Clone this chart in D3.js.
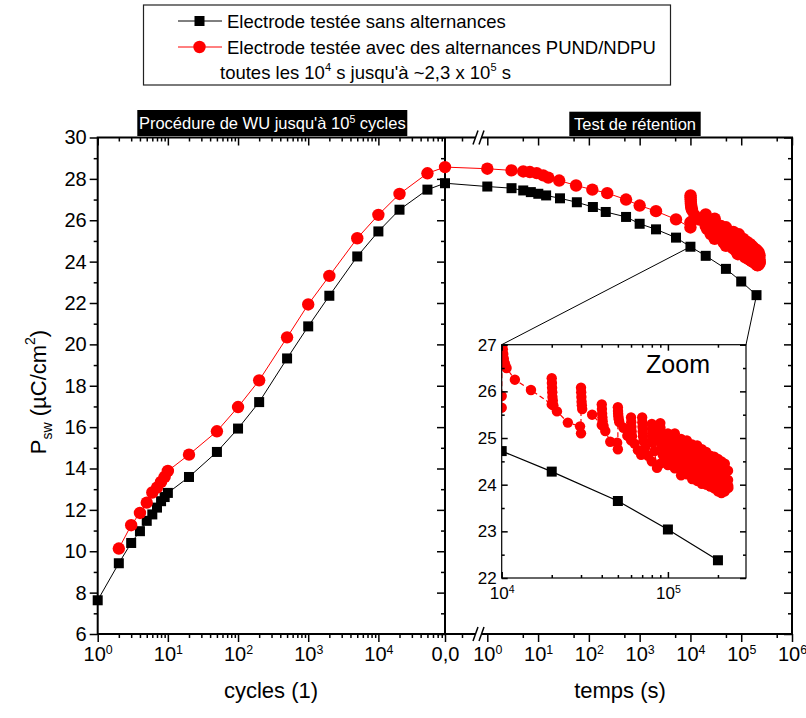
<!DOCTYPE html>
<html><head><meta charset="utf-8">
<script src="https://cdn.jsdelivr.net/npm/d3@7"></script>
<style>body{margin:0;background:#fff;}</style>
</head><body><svg id="c" width="806" height="718"></svg>
<script>
// ---------------- DATA ----------------
// Warm-up (WU) procedure : cycles
const cycBlack = [1,2,3,4,5,6,7,8,9,10,20,50,100,200,500,1000,2000,5000,10000,20000,50000];
const wuBlack  = [7.63,9.42,10.40,10.97,11.47,11.78,12.11,12.42,12.62,12.82,13.59,14.80,15.93,17.21,19.32,20.87,22.35,24.25,25.46,26.51,27.48];
const cycRed   = [2,3,4,5,6,7,8,9,10,20,50,100,200,500,1000,2000,5000,10000,20000,50000];
const wuRed    = [10.13,11.26,11.85,12.35,12.84,13.08,13.35,13.60,13.88,14.67,15.80,16.97,18.26,20.34,21.93,23.31,25.13,26.26,27.27,28.27];

// Retention test : time (s)
const retTimeBlack = [0,1,3,5.1,7.2,10.1,14.4,27,58,120,215,540,1000,2100,5200,10000,20000,50000,100000,200000];
const retBlack     = [27.79,27.63,27.55,27.44,27.36,27.28,27.20,27.06,26.87,26.64,26.40,26.16,25.83,25.56,25.16,24.72,24.28,23.65,23.04,22.38];

const retTimeRed = [0,1,3,5.1,6.9,9.4,12.6,15.9,26,56,117,230,540,1000,2100,5200];
const retRed     = [28.57,28.49,28.41,28.36,28.33,28.28,28.17,28.06,27.92,27.68,27.48,27.31,27.00,26.71,26.44,26.04];

// Red electrode with PUND/NDPU alternances every 1e4 s
const altTimeRed = [
  10000,10000,10050,10080,10120,10160,10220,10300,10450,10700,12000,15000,
  20000,20000,20050,20100,20150,20200,20300,20450,21500,25000,
  29600,30000,30000,30080,30160,30250,30350,30500,35000,
  40000,40000,40100,40200,40350,40500,41000,42000,45000,
  49500,50000,50000,50100,50200,50350,50600,51000,54000,57000,
  60000,60000,60150,60300,60500,60800,63000,66000,
  69000,70000,70150,70300,70500,70800,71200,73000,76000,
  80000,80000,80200,80400,80700,81000,83000,86000,
  90000,90000,90200,90400,90700,91000,91500,93000,96000,
  100000,100000,100300,100600,101000,101500,104000,107000,
  110000,110000,110300,110600,111000,111500,112000,114000,117000,
  120000,120000,120300,120700,121200,121800,124000,127000,
  130000,130000,130300,130700,131200,131800,134000,137000,
  140000,140000,140400,140800,141400,142000,144000,147000,
  150000,150000,150400,150800,151400,152000,154000,157000,
  160000,160000,160400,160800,161400,162000,164000,167000,
  170000,170000,170400,170800,171400,172000,174000,177000,
  180000,180000,180400,180800,181400,182000,184000,187000,
  190000,190000,190400,190800,191400,192000,194000,197000,
  200000,200000,200400,200800,201400,202000,204000,207000,
  210000,210000,210400,210800,211400,212000,214000,217000,
  220000,220000,220400,220800,221400,222000,224000,
  230000,230000,230500,231000
];
const altRed = [
  25.65,25.90,27.20,27.10,27.00,26.90,26.80,26.70,26.60,26.50,26.25,26.03,
  25.72,26.28,26.18,26.08,25.98,25.88,25.80,25.70,25.57,25.33,
  25.25,25.10,26.08,25.98,25.88,25.78,25.70,25.62,25.50,
  25.28,25.72,25.62,25.52,25.44,25.36,25.26,25.15,24.92,
  24.90,24.76,25.66,25.58,25.52,25.46,25.40,25.34,25.22,25.05,
  24.95,25.44,25.34,25.24,25.14,25.04,24.88,24.74,
  24.64,25.44,25.34,25.24,25.14,25.04,24.94,24.80,24.62,
  24.50,25.30,25.20,25.10,25.00,24.90,24.72,24.36,
  24.45,25.32,25.22,25.12,25.02,24.92,24.82,24.64,24.50,
  24.42,25.10,25.00,24.90,24.80,24.70,24.58,24.45,
  24.35,25.10,25.00,24.90,24.80,24.70,24.60,24.48,24.34,
  24.20,24.98,24.88,24.78,24.68,24.58,24.44,24.30,
  24.22,24.95,24.85,24.75,24.65,24.55,24.40,24.26,
  24.12,24.86,24.76,24.66,24.56,24.46,24.32,24.18,
  24.08,24.84,24.74,24.64,24.54,24.44,24.28,24.14,
  24.02,24.76,24.66,24.56,24.46,24.36,24.22,24.08,
  24.00,24.70,24.60,24.50,24.40,24.30,24.16,24.02,
  23.96,24.62,24.52,24.42,24.32,24.22,24.08,23.96,
  23.92,24.60,24.50,24.40,24.30,24.20,24.06,23.92,
  23.86,24.55,24.45,24.35,24.25,24.15,24.00,23.84,
  23.82,24.50,24.40,24.30,24.20,24.10,23.96,23.86,
  23.86,24.45,24.35,24.25,24.15,24.05,23.95,
  24.30,24.10,23.98,23.93
];

// ticks / labels
const yMajor = [6,8,10,12,14,16,18,20,22,24,26,28,30];
const yMinor = [7,9,11,13,15,17,19,21,23,25,27,29];
const cycDecades = [1,10,100,1000,10000];
const timeDecades = [1,10,100,1000,10000,100000,1000000];
const timeMinor = [5,50,500,5000,50000,500000];
const insetY = [22,23,24,25,26,27];
const insetYMinor = [22.5,23.5,24.5,25.5,26.5];
const insetX = [10000,100000];
const insetXMinor = [20000,30000,40000,50000,60000,70000,80000,90000,200000];
const legendLabels = ["Electrode testée sans alternances","Electrode testée avec des alternances PUND/NDPU"];

// ---------------- DRAW ----------------
const F = '"Liberation Sans", Arial, Helvetica, sans-serif';
const svg = d3.select('#c');
const RED = '#ff0000';

const L = 97.7, R = 792, T = 137.5, B = 634, DIV = 445;
const xL = d3.scaleLog().domain([1, 89000]).range([L, DIV]);
const xRlin = d3.scaleLinear().domain([0, 1]).range([DIV, 479]);
const xRlog = d3.scaleLog().domain([1, 1e6]).range([487.3, R]);
const xR = t => t < 1 ? xRlin(t) : xRlog(t);
const y = d3.scaleLinear().domain([6, 30]).range([B, T]);

function styleAxis(g, fs) {
  g.select('.domain').remove();
  g.selectAll('.tick line').attr('stroke', '#000').attr('stroke-width', 1.5);
  g.selectAll('text').attr('font-family', F).attr('font-size', fs || 20).attr('fill', '#000');
}
function supLabels(g) {
  g.selectAll('.tick text').each(function(d) {
    const t = d3.select(this);
    const e = Math.round(Math.log10(d));
    t.text('');
    t.append('tspan').text('10');
    t.append('tspan').attr('dy', '-0.55em').attr('font-size', '0.62em').text(e);
  });
}
// text with superscripts: parts = [[text, isSup], ...]
function richText(sel, parts, supSize, rise) {
  let cur = 0;
  parts.forEach(p => {
    const target = p[1] ? -rise : 0;
    const ts = sel.append('tspan').attr('dy', target - cur).text(p[0]);
    if (p[1]) ts.attr('font-size', supSize);
    cur = target;
  });
}

// axes - left panel
svg.append('g').attr('transform', `translate(${L},0)`)
  .call(d3.axisLeft(y).tickValues(yMajor).tickSize(8).tickPadding(3)).call(g => styleAxis(g));
svg.append('g').attr('transform', `translate(${L},0)`)
  .call(d3.axisLeft(y).tickValues(yMinor).tickSize(4).tickFormat('')).call(g => styleAxis(g));
// divider & right axis : inward (left-pointing) ticks
[DIV, R].forEach(px => {
  svg.append('g').attr('transform', `translate(${px},0)`)
    .call(d3.axisLeft(y).tickValues(yMajor).tickSize(8).tickFormat('')).call(g => styleAxis(g));
  svg.append('g').attr('transform', `translate(${px},0)`)
    .call(d3.axisLeft(y).tickValues(yMinor).tickSize(4).tickFormat('')).call(g => styleAxis(g));
});

const cycMinor = [];
cycDecades.forEach(d => { for (let k = 2; k <= 9; k++) if (d * k < 89000) cycMinor.push(d * k); });

svg.append('g').attr('transform', `translate(0,${B})`)
  .call(d3.axisBottom(xL).tickValues(cycDecades).tickSize(8).tickPadding(5)).call(g => styleAxis(g)).call(supLabels);
svg.append('g').attr('transform', `translate(0,${B})`)
  .call(d3.axisBottom(xL).tickValues(cycMinor).tickSize(4).tickFormat('')).call(g => styleAxis(g));
svg.append('g').attr('transform', `translate(0,${T})`)
  .call(d3.axisTop(xL).tickValues(cycDecades).tickSize(-8).tickFormat('')).call(g => styleAxis(g));
svg.append('g').attr('transform', `translate(0,${T})`)
  .call(d3.axisTop(xL).tickValues(cycMinor).tickSize(-4).tickFormat('')).call(g => styleAxis(g));

// axes - right panel
svg.append('g').attr('transform', `translate(0,${B})`)
  .call(d3.axisBottom(xRlog).tickValues(timeDecades).tickSize(8).tickPadding(5)).call(g => styleAxis(g)).call(supLabels);
svg.append('g').attr('transform', `translate(0,${B})`)
  .call(d3.axisBottom(xRlog).tickValues(timeMinor).tickSize(4).tickFormat('')).call(g => styleAxis(g));
svg.append('g').attr('transform', `translate(0,${B})`)
  .call(d3.axisBottom(xRlin).tickValues([0]).tickSize(8).tickPadding(5).tickFormat(() => '0,0')).call(g => styleAxis(g));
svg.append('g').attr('transform', `translate(0,${B})`)
  .call(d3.axisBottom(xRlin).tickValues([0.5]).tickSize(4).tickFormat('')).call(g => styleAxis(g));
svg.append('g').attr('transform', `translate(0,${T})`)
  .call(d3.axisTop(xRlog).tickValues(timeDecades).tickSize(-8).tickFormat('')).call(g => styleAxis(g));
svg.append('g').attr('transform', `translate(0,${T})`)
  .call(d3.axisTop(xRlog).tickValues(timeMinor).tickSize(-4).tickFormat('')).call(g => styleAxis(g));
svg.append('g').attr('transform', `translate(0,${T})`)
  .call(d3.axisTop(xRlin).tickValues([0.5]).tickSize(-4).tickFormat('')).call(g => styleAxis(g));

// frame
svg.append('rect').attr('x', L).attr('y', T).attr('width', R - L).attr('height', B - T)
  .attr('fill', 'none').attr('stroke', '#000').attr('stroke-width', 2);
svg.append('line').attr('x1', DIV).attr('x2', DIV).attr('y1', T).attr('y2', B)
  .attr('stroke', '#000').attr('stroke-width', 2);

// break marks
[T, B].forEach(py => {
  const bx = xRlin(1) + 1;
  svg.append('rect').attr('x', bx - 4).attr('y', py - 2).attr('width', 5).attr('height', 4).attr('fill', '#fff');
  [-4, 2].forEach(off => {
    svg.append('line').attr('x1', bx + off - 3).attr('y1', py + 7).attr('x2', bx + off + 2).attr('y2', py - 7)
      .attr('stroke', '#000').attr('stroke-width', 1.5);
  });
});

// series pixel positions
const blackPts = cycBlack.map((c, i) => [xL(c), y(wuBlack[i])])
  .concat(retTimeBlack.map((t, i) => [xR(t), y(retBlack[i])]));
const allRedT = retTimeRed.concat(altTimeRed);
const allRedV = retRed.concat(altRed);
const redPts = cycRed.map((c, i) => [xL(c), y(wuRed[i])])
  .concat(allRedT.map((t, i) => [xR(t), y(allRedV[i])]));

const line = d3.line();
svg.append('path').attr('d', line(blackPts)).attr('fill', 'none').attr('stroke', '#000').attr('stroke-width', 1);
svg.append('path').attr('d', line(redPts)).attr('fill', 'none').attr('stroke', RED).attr('stroke-width', 1);

svg.append('g').selectAll('rect').data(blackPts).join('rect')
  .attr('x', d => d[0] - 5).attr('y', d => d[1] - 5).attr('width', 10).attr('height', 10).attr('fill', '#000');
svg.append('g').selectAll('circle').data(redPts).join('circle')
  .attr('cx', d => d[0]).attr('cy', d => d[1]).attr('r', 6.2).attr('fill', RED);

// ---------------- INSET ----------------
const IL = 501.7, IR = 746, IT = 344.7, IB = 578;
const xI = d3.scaleLog().domain([1e4, 2.95e5]).range([IL, IR]);
const yI = d3.scaleLinear().domain([22, 27]).range([IB, IT]);

// connector lines
const iBlack0 = retTimeBlack.indexOf(10000), iBlack1 = retTimeBlack.indexOf(200000);
svg.append('line').attr('x1', xR(retTimeBlack[iBlack0])).attr('y1', y(retBlack[iBlack0]))
  .attr('x2', IL).attr('y2', IT).attr('stroke', '#000').attr('stroke-width', 1);
svg.append('line').attr('x1', xR(retTimeBlack[iBlack1])).attr('y1', y(retBlack[iBlack1]))
  .attr('x2', IR).attr('y2', IT).attr('stroke', '#000').attr('stroke-width', 1);

svg.append('rect').attr('x', IL).attr('y', IT).attr('width', IR - IL).attr('height', IB - IT)
  .attr('fill', '#fff').attr('stroke', 'none');
svg.append('defs').append('clipPath').attr('id', 'iclip').append('rect')
  .attr('x', IL).attr('y', IT).attr('width', IR - IL).attr('height', IB - IT);

const ig = svg.append('g').attr('clip-path', 'url(#iclip)');
const iBlk = retTimeBlack.map((t, i) => [t, retBlack[i]]).filter(d => d[0] >= 1e4).map(d => [xI(d[0]), yI(d[1])]);
const iRed = allRedT.map((t, i) => [t, allRedV[i]]).filter(d => d[0] >= 5000).map(d => [xI(d[0]), yI(d[1])]);
ig.append('path').attr('d', line(iBlk)).attr('fill', 'none').attr('stroke', '#000').attr('stroke-width', 1.2);
ig.append('path').attr('d', line(iRed)).attr('fill', 'none').attr('stroke', RED).attr('stroke-width', 1.2)
  .attr('stroke-dasharray', '5,3');
ig.selectAll('rect.b').data(iBlk).join('rect').attr('class', 'b')
  .attr('x', d => d[0] - 5).attr('y', d => d[1] - 5).attr('width', 10).attr('height', 10).attr('fill', '#000');
ig.selectAll('circle').data(iRed).join('circle')
  .attr('cx', d => d[0]).attr('cy', d => d[1]).attr('r', 5.2).attr('fill', RED);

// inset axes
svg.append('g').attr('transform', `translate(${IL},0)`)
  .call(d3.axisLeft(yI).tickValues(insetY).tickSize(-6).tickPadding(5).tickFormat(d3.format('d'))).call(g => styleAxis(g, 17));
svg.append('g').attr('transform', `translate(${IL},0)`)
  .call(d3.axisLeft(yI).tickValues(insetYMinor).tickSize(-3).tickFormat('')).call(g => styleAxis(g));
svg.append('g').attr('transform', `translate(${IR},0)`)
  .call(d3.axisRight(yI).tickValues(insetY).tickSize(-6).tickFormat('')).call(g => styleAxis(g));
svg.append('g').attr('transform', `translate(${IR},0)`)
  .call(d3.axisRight(yI).tickValues(insetYMinor).tickSize(-3).tickFormat('')).call(g => styleAxis(g));
svg.append('g').attr('transform', `translate(0,${IB})`)
  .call(d3.axisBottom(xI).tickValues(insetX).tickSize(-6).tickPadding(9)).call(g => styleAxis(g, 17)).call(supLabels);
svg.append('g').attr('transform', `translate(0,${IB})`)
  .call(d3.axisBottom(xI).tickValues(insetXMinor).tickSize(-3).tickFormat('')).call(g => styleAxis(g));
svg.append('g').attr('transform', `translate(0,${IT})`)
  .call(d3.axisTop(xI).tickValues(insetX).tickSize(-6).tickFormat('')).call(g => styleAxis(g));
svg.append('g').attr('transform', `translate(0,${IT})`)
  .call(d3.axisTop(xI).tickValues(insetXMinor).tickSize(-3).tickFormat('')).call(g => styleAxis(g));
svg.append('rect').attr('x', IL).attr('y', IT).attr('width', IR - IL).attr('height', IB - IT)
  .attr('fill', 'none').attr('stroke', '#000').attr('stroke-width', 1.2);
svg.append('text').attr('x', 678).attr('y', 373).attr('text-anchor', 'middle')
  .attr('font-family', F).attr('font-size', 25).text('Zoom');

// ---------------- TITLE BOXES ----------------
svg.append('rect').attr('x', 137.3).attr('y', 110).attr('width', 270).attr('height', 26).attr('fill', '#000');
const t1 = svg.append('text').attr('x', 272.3).attr('y', 129).attr('text-anchor', 'middle')
  .attr('font-family', F).attr('font-size', 16.5).attr('fill', '#fff');
richText(t1, [["Procédure de WU jusqu'à 10", false], ['5', true], [' cycles', false]], 10.5, 6);

svg.append('rect').attr('x', 569.3).attr('y', 111.7).attr('width', 131.4).attr('height', 24.3).attr('fill', '#000');
svg.append('text').attr('x', 635).attr('y', 129.5).attr('text-anchor', 'middle')
  .attr('font-family', F).attr('font-size', 16.5).attr('fill', '#fff').text('Test de rétention');

// ---------------- AXIS TITLES ----------------
svg.append('text').attr('x', 271).attr('y', 698).attr('text-anchor', 'middle')
  .attr('font-family', F).attr('font-size', 22).text('cycles (1)');
svg.append('text').attr('x', 620).attr('y', 698).attr('text-anchor', 'middle')
  .attr('font-family', F).attr('font-size', 22).text('temps (s)');
const yt = svg.append('text').attr('transform', 'translate(46,392) rotate(-90)').attr('text-anchor', 'middle')
  .attr('font-family', F).attr('font-size', 22);
yt.append('tspan').text('P');
yt.append('tspan').attr('dy', 6).attr('font-size', 14).text('sw');
yt.append('tspan').attr('dy', -6).text(' (µC/cm');
yt.append('tspan').attr('dy', -11).attr('font-size', 14).text('2');
yt.append('tspan').attr('dy', 11).text(')');

// ---------------- LEGEND ----------------
svg.append('rect').attr('x', 143.5).attr('y', 5).attr('width', 527).attr('height', 80)
  .attr('fill', '#fff').attr('stroke', '#222').attr('stroke-width', 1.2);
const lg = svg.append('g').attr('font-family', F).attr('font-size', 18.5);
[[21, '#000', 'sq'], [47, RED, 'ci']].forEach((row, i) => {
  lg.append('line').attr('x1', 178).attr('x2', 222).attr('y1', row[0]).attr('y2', row[0]).attr('stroke', row[1]).attr('stroke-width', 1);
  if (row[2] === 'sq') lg.append('rect').attr('x', 194.5).attr('y', row[0] - 5).attr('width', 10).attr('height', 10).attr('fill', row[1]);
  else lg.append('circle').attr('cx', 199.5).attr('cy', row[0]).attr('r', 6.2).attr('fill', row[1]);
  lg.append('text').attr('x', 227).attr('y', row[0] + 6.5).text(legendLabels[i]);
});
const l3 = lg.append('text').attr('x', 220).attr('y', 78.5);
richText(l3, [['toutes les 10', false], ['4', true], [" s jusqu'à ~2,3 x 10", false], ['5', true], [' s', false]], 11, 8);
</script>
</body></html>
